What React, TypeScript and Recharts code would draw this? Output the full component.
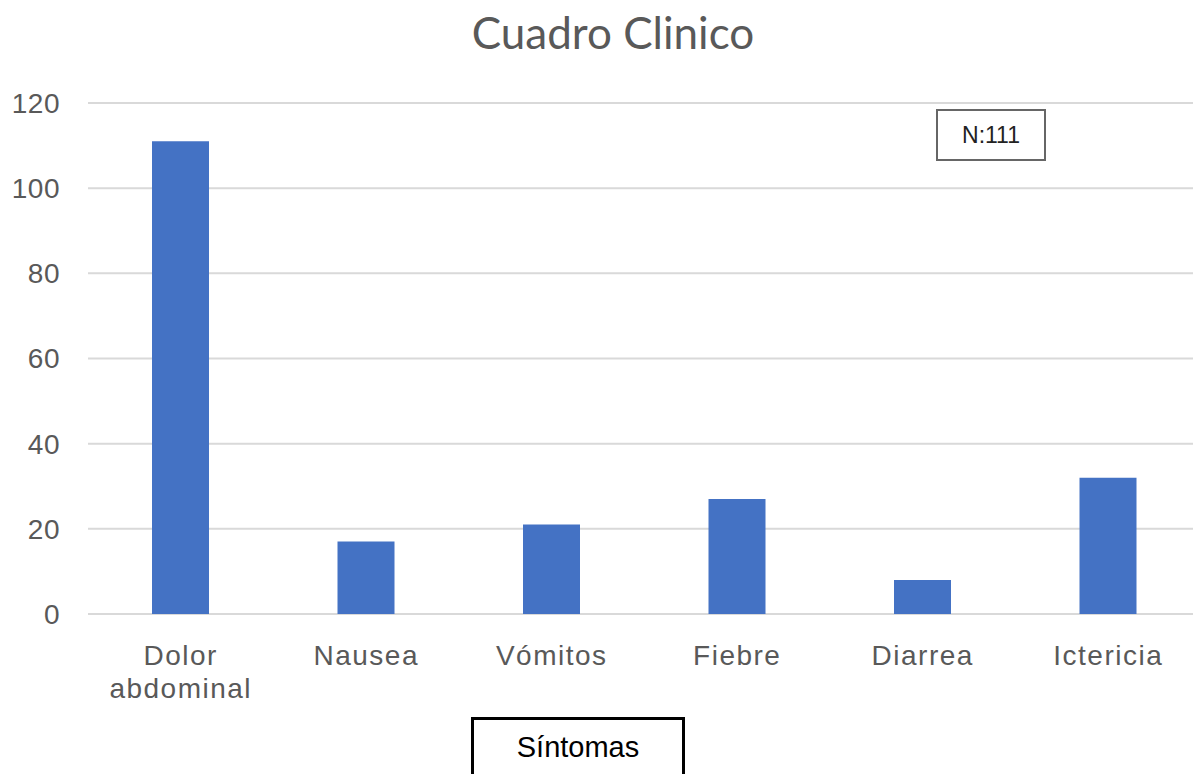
import React from 'react';
import { BarChart, Bar, XAxis, YAxis, CartesianGrid } from 'recharts';

const sintomas = ['Dolor abdominal', 'Nausea', 'Vómitos', 'Fiebre', 'Diarrea', 'Ictericia'];
const casos = [111, 17, 21, 27, 8, 32];
const yTicks = [0, 20, 40, 60, 80, 100, 120];

const data = sintomas.map((name, i) => ({ name, casos: casos[i] }));

const labelFont = "Arial, 'Liberation Sans', sans-serif";

const CategoryTick = (props: any) => {
  const { x, y, payload } = props;
  const lines = String(payload.value).split(' ');
  return (
    <text
      x={x}
      y={y + 51}
      textAnchor="middle"
      fill="#595959"
      fontSize={28}
      fontFamily={labelFont}
      letterSpacing={1.5}
    >
      {lines.map((l, i) => (
        <tspan key={i} x={x} dy={i === 0 ? 0 : 33}>
          {l}
        </tspan>
      ))}
    </text>
  );
};

export default function App() {
  return (
    <div
      style={{
        position: 'absolute',
        left: 0,
        top: 0,
        width: 1193,
        height: 774,
        overflow: 'hidden',
        background: '#fff',
      }}
    >
      <BarChart
        width={1201}
        height={774}
        data={data}
        margin={{ top: 103, right: 0, bottom: 0, left: 0 }}
      >
        <CartesianGrid vertical={false} stroke="#d9d9d9" strokeWidth={2} />
        <XAxis
          dataKey="name"
          height={160}
          axisLine={false}
          tickLine={false}
          tickSize={0}
          tickMargin={0}
          interval={0}
          tick={<CategoryTick />}
        />
        <YAxis
          width={88}
          domain={[0, 120]}
          ticks={yTicks}
          axisLine={false}
          tickLine={false}
          tickSize={0}
          tickMargin={28}
          tick={{ fill: '#595959', fontSize: 28, fontFamily: labelFont, letterSpacing: 0.5 }}
        />
        <Bar dataKey="casos" fill="#4472C4" barSize={57} isAnimationActive={false} />
      </BarChart>

      <div
        style={{
          position: 'absolute',
          left: 0,
          width: 1226,
          top: 6,
          textAlign: 'center',
          fontFamily: 'Lato, sans-serif',
          fontSize: 44,
          color: '#595959',
        }}
      >
        Cuadro Clinico
      </div>

      <div
        style={{
          position: 'absolute',
          left: 936,
          top: 109,
          width: 106,
          height: 48,
          border: '2px solid #666',
          background: '#fff',
          display: 'flex',
          alignItems: 'center',
          justifyContent: 'center',
          fontFamily: labelFont,
          fontSize: 23,
          color: '#222',
        }}
      >
        N:111
      </div>

      <div
        style={{
          position: 'absolute',
          left: 471,
          top: 717,
          width: 208,
          height: 80,
          border: '3px solid #000',
          background: '#fff',
          fontFamily: labelFont,
          fontSize: 29,
          color: '#000',
          textAlign: 'center',
          paddingTop: 11,
          boxSizing: 'content-box',
        }}
      >
        Síntomas
      </div>
    </div>
  );
}
